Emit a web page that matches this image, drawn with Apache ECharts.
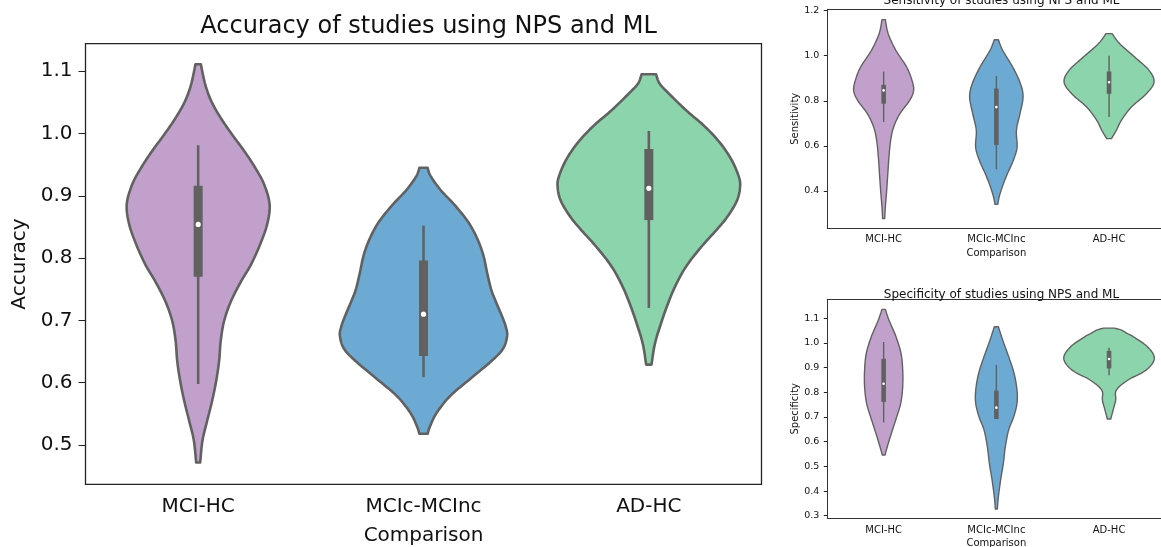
<!DOCTYPE html>
<html>
<head>
<meta charset="utf-8">
<script src="https://cdn.jsdelivr.net/npm/echarts@6/dist/echarts.min.js"></script>
<style>
  html, body { margin: 0; padding: 0; background: #fff; }
  #chart { width: 1161px; height: 547px; }
</style>
</head>
<body>
<div id="chart"></div>
<script>
// categories shared by all three panels
var categories = ['MCI-HC', 'MCIc-MCInc', 'AD-HC']
var violinColors = ['#C1A1CC', '#6CAAD4', '#8CD4AB']
var edgeColor = '#616161'

// violin outlines: [value, half width as share of the category band], top to bottom
var accMciHc = [[1.111, 0.012], [1.079, 0.031], [1.052, 0.058], [1.025, 0.100], [0.998, 0.151], [0.972, 0.204],
  [0.945, 0.253], [0.918, 0.293], [0.886, 0.317], [0.854, 0.306], [0.822, 0.275], [0.790, 0.235], [0.763, 0.191],
  [0.731, 0.146], [0.699, 0.115], [0.667, 0.100], [0.635, 0.093], [0.603, 0.080], [0.571, 0.062], [0.539, 0.040],
  [0.507, 0.019], [0.472, 0.009]]
var accMciConv = [[0.945, 0.018], [0.932, 0.031], [0.910, 0.074], [0.884, 0.141], [0.857, 0.200], [0.830, 0.240],
  [0.804, 0.266], [0.777, 0.282], [0.750, 0.300], [0.731, 0.320], [0.707, 0.348], [0.690, 0.365], [0.675, 0.371],
  [0.654, 0.352], [0.633, 0.296], [0.606, 0.207], [0.579, 0.119], [0.552, 0.059], [0.531, 0.030], [0.518, 0.018]]
var accAdHc = [[1.095, 0.032], [1.080, 0.048], [1.064, 0.089], [1.037, 0.166], [1.011, 0.249], [0.984, 0.318],
  [0.957, 0.368], [0.931, 0.399], [0.915, 0.405], [0.893, 0.392], [0.867, 0.350], [0.845, 0.300], [0.821, 0.240],
  [0.789, 0.170], [0.757, 0.120], [0.725, 0.083], [0.693, 0.052], [0.661, 0.026], [0.629, 0.012]]

var sensMciHc = [[1.160, 0.015], [1.098, 0.040], [1.024, 0.108], [0.950, 0.204], [0.891, 0.251], [0.846, 0.266],
  [0.802, 0.231], [0.743, 0.145], [0.684, 0.089], [0.624, 0.062], [0.550, 0.047], [0.477, 0.037], [0.403, 0.027],
  [0.329, 0.015], [0.277, 0.009]]
var sensMciConv = [[1.071, 0.018], [1.024, 0.056], [0.950, 0.145], [0.876, 0.214], [0.817, 0.237], [0.743, 0.210],
  [0.669, 0.178], [0.595, 0.184], [0.536, 0.151], [0.462, 0.086], [0.388, 0.033], [0.340, 0.012]]
var sensAdHc = [[1.098, 0.027], [1.053, 0.095], [0.994, 0.228], [0.935, 0.355], [0.883, 0.399], [0.831, 0.331],
  [0.772, 0.198], [0.713, 0.109], [0.669, 0.065], [0.632, 0.021]]

var specMciHc = [[1.136, 0.015], [1.093, 0.047], [1.026, 0.109], [0.958, 0.154], [0.891, 0.169], [0.823, 0.169],
  [0.755, 0.151], [0.688, 0.107], [0.620, 0.059], [0.566, 0.024], [0.546, 0.012]]
var specMciConv = [[1.066, 0.018], [1.012, 0.056], [0.945, 0.109], [0.877, 0.157], [0.809, 0.183], [0.755, 0.183],
  [0.701, 0.154], [0.647, 0.109], [0.580, 0.080], [0.512, 0.062], [0.445, 0.038], [0.377, 0.018], [0.327, 0.009]]
var specAdHc = [[1.060, 0.050], [1.052, 0.110], [1.039, 0.160], [1.026, 0.213], [0.985, 0.340], [0.938, 0.402],
  [0.891, 0.331], [0.850, 0.169], [0.809, 0.065], [0.769, 0.059], [0.728, 0.036], [0.692, 0.015]]

// inner box: [lower whisker, q1, median, q3, upper whisker]
var accBoxes = [[0.598, 0.770, 0.854, 0.916, 0.981], [0.609, 0.643, 0.710, 0.796, 0.852], [0.720, 0.861, 0.912, 0.975, 1.004]]
var sensBoxes = [[0.706, 0.787, 0.846, 0.871, 0.930], [0.496, 0.604, 0.772, 0.854, 0.910], [0.728, 0.831, 0.882, 0.930, 1.000]]
var specBoxes = [[0.678, 0.761, 0.835, 0.936, 1.004], [0.692, 0.692, 0.738, 0.807, 0.911], [0.869, 0.897, 0.935, 0.968, 0.981]]

// tick labels
var accTicks = [0.5, 0.6, 0.7, 0.8, 0.9, 1.0, 1.1]
var sensTicks = [0.4, 0.6, 0.8, 1.0, 1.2]
var specTicks = [0.3, 0.4, 0.5, 0.6, 0.7, 0.8, 0.9, 1.0, 1.1]

var font = 'DejaVu Sans'
var big = { font: 20, tickFont: 20, tick: 7, edge: 2.6, whisker: 2.6, box: 9, dot: 2.6 }
var small = { font: 10, tickFont: 9.5, tick: 3.5, edge: 1.4, whisker: 1.4, box: 4.6, dot: 1.3 }

// catmull-rom through the outline points so the edge is smooth but the cut ends stay flat
var smoothLine = function(pts) {
  var out = []
  for (var i = 0; i < pts.length - 1; i++) {
    var p0 = pts[Math.max(i - 1, 0)], p1 = pts[i], p2 = pts[i + 1], p3 = pts[Math.min(i + 2, pts.length - 1)]
    for (var k = 0; k < 10; k++) {
      var t = k / 10, t2 = t * t, t3 = t2 * t
      out.push([0, 1].map(function(d) {
        return 0.5 * (2 * p1[d] + (-p0[d] + p2[d]) * t + (2 * p0[d] - 5 * p1[d] + 4 * p2[d] - p3[d]) * t2 +
          (-p0[d] + 3 * p1[d] - 3 * p2[d] + p3[d]) * t3)
      }))
    }
  }
  out.push(pts[pts.length - 1])
  return out
}

var violinSeries = function(idx, profiles, boxes, st) {
  return {
    type: 'custom',
    xAxisIndex: idx,
    yAxisIndex: idx,
    data: categories.map(function(c, i) { return [i] }),
    renderItem: function(params, api) {
      var ci = api.value(0)
      var band = api.size([1, 0])[0]
      var rightSide = profiles[ci].map(function(p) {
        var c = api.coord([ci, p[0]])
        return [c[0] + p[1] * band, c[1]]
      })
      var cx = api.coord([ci, profiles[ci][0][0]])[0]
      var rs = smoothLine(rightSide)
      var ls = rs.map(function(p) { return [2 * cx - p[0], p[1]] }).reverse()
      var b = boxes[ci]
      var lo = api.coord([ci, b[0]])
      var q1 = api.coord([ci, b[1]])
      var med = api.coord([ci, b[2]])
      var q3 = api.coord([ci, b[3]])
      var hi = api.coord([ci, b[4]])
      return {
        type: 'group',
        children: [
          { type: 'polygon', shape: { points: rs.concat(ls) },
            style: { fill: violinColors[ci], stroke: edgeColor, lineWidth: st.edge, lineJoin: 'round' } },
          { type: 'line', shape: { x1: lo[0], y1: lo[1], x2: hi[0], y2: hi[1] },
            style: { stroke: edgeColor, lineWidth: st.whisker } },
          { type: 'rect', shape: { x: q3[0] - st.box / 2, y: q3[1], width: st.box, height: Math.max(q1[1] - q3[1], 1) },
            style: { fill: edgeColor } },
          { type: 'circle', shape: { cx: med[0], cy: med[1], r: st.dot }, style: { fill: '#fff' } }
        ]
      }
    }
  }
}

var xAxisFor = function(idx, st, margin, nameGap, line) {
  return {
    type: 'category', gridIndex: idx, data: categories,
    name: 'Comparison', nameLocation: 'middle', nameGap: nameGap,
    nameTextStyle: { fontFamily: font, fontSize: st.font, color: '#111' },
    axisLine: { show: line, lineStyle: { color: '#333', width: 1 } },
    axisTick: { alignWithLabel: true, length: st.tick, lineStyle: { color: '#222', width: 1 } },
    axisLabel: { fontFamily: font, fontSize: st.font, color: '#111', margin: margin },
    splitLine: { show: false }
  }
}

// top spine only
var topSpine = function(idx) {
  return {
    type: 'category', gridIndex: idx, data: categories, position: 'top',
    axisLine: { show: true, lineStyle: { color: '#333', width: 1 } },
    axisTick: { show: false }, axisLabel: { show: false }, splitLine: { show: false }
  }
}

var yAxisFor = function(idx, name, min, max, ticks, st, margin, nameGap, line) {
  return {
    type: 'value', gridIndex: idx, min: min, max: max,
    name: name, nameLocation: 'middle', nameGap: nameGap,
    nameTextStyle: { fontFamily: font, fontSize: st.font, color: '#111' },
    axisLine: { show: line, lineStyle: { color: '#333', width: 1 } },
    axisTick: { show: true, length: st.tick, customValues: ticks, lineStyle: { color: '#222', width: 1 } },
    axisLabel: { fontFamily: font, fontSize: st.tickFont, color: '#111', margin: margin,
      customValues: ticks, formatter: function(v) { return v.toFixed(1) } },
    splitLine: { show: false }
  }
}

var chart = echarts.init(document.getElementById('chart'))
chart.setOption({
  backgroundColor: '#fff',
  animation: false,
  title: [
    { text: 'Accuracy of studies using NPS and ML', left: 423.5, top: 10, textAlign: 'center',
      textStyle: { fontFamily: font, fontSize: 24, fontWeight: 'normal', color: '#111' } },
    { text: 'Sensitivity of studies using NPS and ML', left: 996.5, top: -10, textAlign: 'center',
      textStyle: { fontFamily: font, fontSize: 12, fontWeight: 'normal', color: '#111' } },
    { text: 'Specificity of studies using NPS and ML', left: 996.5, top: 283.5, textAlign: 'center',
      textStyle: { fontFamily: font, fontSize: 12, fontWeight: 'normal', color: '#111' } }
  ],
  grid: [
    { left: 85.5, width: 676, top: 43.7, height: 440.6, outerBoundsMode: 'none',
      show: true, borderColor: '#222', borderWidth: 1.3, backgroundColor: 'transparent' },
    { left: 827.3, width: 338.1, top: 9.3, height: 219, outerBoundsMode: 'none' },
    { left: 827.3, width: 338.1, top: 299.3, height: 219, outerBoundsMode: 'none' }
  ],
  xAxis: [
    xAxisFor(0, big, 12, 41, false),
    xAxisFor(1, small, 6, 20, true),
    xAxisFor(2, small, 7, 20, true),
    topSpine(1),
    topSpine(2)
  ],
  yAxis: [
    yAxisFor(0, 'Accuracy', 0.437, 1.144, accTicks, big, 13, 55, false),
    yAxisFor(1, 'Sensitivity', 0.234, 1.206, sensTicks, small, 8, 26.5, true),
    yAxisFor(2, 'Specificity', 0.2895, 1.177, specTicks, small, 8, 26.5, true)
  ],
  series: [
    violinSeries(0, [accMciHc, accMciConv, accAdHc], accBoxes, big),
    violinSeries(1, [sensMciHc, sensMciConv, sensAdHc], sensBoxes, small),
    violinSeries(2, [specMciHc, specMciConv, specAdHc], specBoxes, small)
  ]
})
</script>
</body>
</html>
